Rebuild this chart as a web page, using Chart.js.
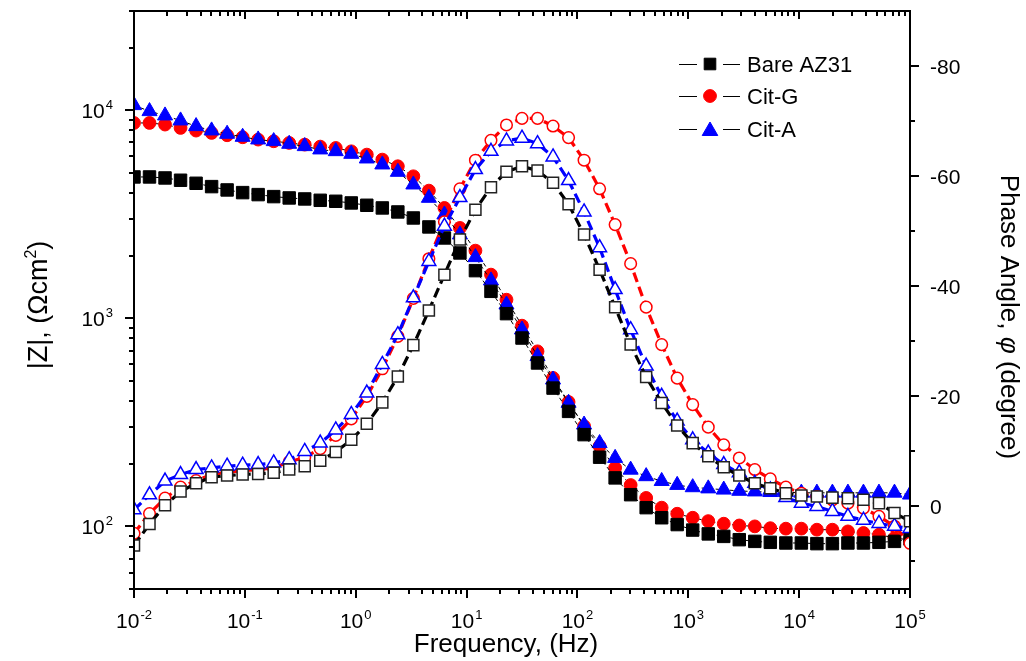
<!DOCTYPE html>
<html>
<head>
<meta charset="utf-8">
<script src="https://cdn.jsdelivr.net/npm/chart.js@4.4.1/dist/chart.umd.min.js"></script>
<style>
html,body{margin:0;padding:0;background:#fff;}
canvas{display:block;}
</style>
</head>
<body>
<canvas id="c" width="1026" height="661"></canvas>
<script>
// ---- data ----
const freq = [0.01,0.0138,0.01905,0.0263,0.03631,0.05012,0.06918,0.0955,0.1318,0.182,
  0.2512,0.3467,0.4786,0.6607,0.912,1.259,1.738,2.399,3.311,4.571,
  6.31,8.71,12.02,16.6,22.91,31.62,43.65,60.26,83.18,114.8,
  158.5,218.8,302,416.9,575.4,794.3,1096,1514,2089,2884,
  3981,5495,7586,10471,14454,19953,27542,38019,52481,72444,100000];

const bareZ = [4780,4780,4727,4609,4457,4296,4140,4020,3932,3846,
  3789,3747,3692,3652,3585,3494,3392,3245,3036,2749,
  2433,2061,1695,1348,1053,804,610,462,357,276,
  215,171,142,123,110,102,96,92,89.5,86.3,
  84.7,83.8,83.2,83.2,82.6,82.6,83.2,83.2,83.8,84.7,87];
const citGZ = [8690,8690,8535,8224,7986,7782,7584,7418,7228,7096,
  6966,6838,6688,6590,6350,6122,5792,5381,4816,4110,
  3392,2719,2115,1622,1229,922,694,517,396,303,
  243,191,158,137,123,115,110,106,103,101,
  100,98,97.5,97.5,96.4,96.4,94.6,92.9,91.2,88,86];
const citAZ = [10570,9890,9427,8920,8378,7986,7697,7444,7228,7096,
  6889,6714,6472,6350,6166,5856,5481,5052,4391,3789,
  3151,2525,1965,1518,1163,882,657,507,392,308,
  251,213,187,174,165,158,154,152,150,148,
  147,146,146,145,145,145,145,145,145,145,142];

const barePhase = [7.1,3.2,-0.2,-2.7,-4.2,-5.3,-5.6,-5.8,-5.9,-6.1,
  -6.7,-7.3,-8.3,-9.9,-12.1,-15.0,-18.9,-23.6,-29.3,-35.6,
  -42.1,-48.5,-53.9,-58.0,-60.8,-61.8,-61.0,-58.8,-54.9,-49.4,
  -43.0,-36.2,-29.4,-23.5,-18.8,-14.7,-11.5,-9.1,-7.1,-5.6,
  -4.2,-3.3,-2.4,-2.0,-1.8,-1.6,-1.5,-1.2,-0.6,1.2,2.7];
const citGPhase = [4.9,1.3,-1.5,-3.5,-4.7,-5.8,-6.2,-6.5,-6.7,-7.0,
  -8.1,-8.9,-10.5,-12.9,-15.9,-20.0,-25.0,-30.9,-37.8,-45.0,
  -51.7,-57.7,-62.9,-66.5,-69.3,-70.5,-70.5,-69.1,-67.0,-62.9,
  -57.7,-51.2,-44.1,-36.2,-29.4,-23.3,-18.5,-14.4,-11.2,-8.8,
  -6.7,-5.0,-3.5,-2.4,-1.8,-1.2,-0.6,0.3,1.8,3.6,6.7];
const citAPhase = [0.6,-2.1,-4.6,-5.8,-6.7,-7.0,-7.3,-7.5,-7.6,-7.9,
  -8.5,-10.0,-11.5,-13.9,-16.7,-20.6,-25.8,-31.2,-37.9,-44.5,
  -50.9,-56.1,-61.2,-64.5,-66.4,-66.9,-65.9,-63.5,-59.2,-53.5,
  -47.0,-39.4,-32.1,-25.5,-20.0,-15.5,-12.1,-9.7,-7.6,-6.1,
  -4.2,-3.0,-1.6,-0.6,0.0,0.9,1.8,2.5,3.1,3.6,4.0];

const seriesNames = ['Bare AZ31','Cit-G','Cit-A'];
const xTickExp = [-2,-1,0,1,2,3,4,5];
const yTickExp = [2,3,4];
const y2Major = [-80,-60,-40,-20,0];
const y2Minor = [-70,-50,-30,-10,10];

const FONT = '"Liberation Sans", Arial, Helvetica, sans-serif';
const pts = (arr) => freq.map((f,i)=>({x:f, y:arr[i]}));

const zLine = {borderColor:'#000', borderWidth:1, borderDash:[4,3], showLine:true, clip:0};
const pLine = {borderWidth:3.2, borderDash:[10,5], showLine:true, clip:0};

const datasets = [
  Object.assign({label:'Bare phase', data:pts(barePhase), yAxisID:'y2', borderColor:'#000',
    pointStyle:'rect', pointRadius:7.8, pointBackgroundColor:'#fff', pointBorderColor:'#222', pointBorderWidth:1.5}, pLine),
  Object.assign({label:'Cit-A phase', data:pts(citAPhase), yAxisID:'y2', borderColor:'#0000ff',
    pointStyle:'triangle', pointRadius:8, pointBackgroundColor:'#fff', pointBorderColor:'#0000ff', pointBorderWidth:1.5}, pLine),
  Object.assign({label:'Cit-G phase', data:pts(citGPhase), yAxisID:'y2', borderColor:'#ff0000',
    pointStyle:'circle', pointRadius:5.8, pointBackgroundColor:'#fff', pointBorderColor:'#ff0000', pointBorderWidth:1.5}, pLine),
  Object.assign({label:'Bare Z', data:pts(bareZ), yAxisID:'y',
    pointStyle:'rect', pointRadius:8.8, pointBackgroundColor:'#000', pointBorderColor:'#000', pointBorderWidth:1}, zLine),
  Object.assign({label:'Cit-A Z', data:pts(citAZ), yAxisID:'y',
    pointStyle:'triangle', pointRadius:8.7, pointBackgroundColor:'#0000ff', pointBorderColor:'#0000ff', pointBorderWidth:1}, zLine),
  Object.assign({label:'Cit-G Z', data:pts(citGZ), yAxisID:'y',
    pointStyle:'circle', pointRadius:6.4, pointBackgroundColor:'#ff0000', pointBorderColor:'#ff0000', pointBorderWidth:1}, zLine)
];

function drawPow(ctx, exp, x, yBase, align) {
  const big = '21px ' + FONT, small = '13px ' + FONT;
  ctx.font = big; const w1 = ctx.measureText('10').width;
  ctx.font = small; const es = String(exp); const w2 = ctx.measureText(es).width;
  const tw = w1 + w2 + 1;
  let x0 = align === 'center' ? x - tw/2 : (align === 'right' ? x - tw : x);
  ctx.textAlign = 'left'; ctx.textBaseline = 'alphabetic';
  ctx.font = big; ctx.fillText('10', x0, yBase);
  ctx.font = small; ctx.fillText(es, x0 + w1 + 1, yBase - 9);
}

const axesPlugin = {
  id: 'axesPlugin',
  afterDraw(chart) {
    const {ctx, chartArea:a, scales} = chart;
    const sx = scales.x, sy = scales.y, sy2 = scales.y2;
    ctx.save();
    ctx.fillStyle = '#000'; ctx.strokeStyle = '#000';
    ctx.lineWidth = 2;
    ctx.strokeRect(a.left, a.top, a.right - a.left, a.bottom - a.top);
    const line = (x1,y1,x2,y2)=>{ctx.beginPath();ctx.moveTo(x1,y1);ctx.lineTo(x2,y2);ctx.stroke();};
    for (let e = -2; e <= 5; e++) {
      for (let m = 1; m <= 9; m++) {
        const v = m * Math.pow(10, e);
        if (v < 0.01 - 1e-12 || v > 1e5 + 1e-6) continue;
        const px = Math.round(sx.getPixelForValue(v));
        line(px, a.bottom, px, a.bottom + (m === 1 ? 9 : 5));
        line(px, a.top, px, a.top + (m === 1 ? 8 : 5));
      }
    }
    for (let e = 1; e <= 4; e++) {
      for (let m = 1; m <= 9; m++) {
        const v = m * Math.pow(10, e);
        if (v < 50 - 1e-9 || v > 30000 + 1e-6) continue;
        const py = Math.round(sy.getPixelForValue(v));
        const L = m === 1 ? 9 : 5;
        line(a.left - L, py, a.left, py);
      }
    }
    y2Major.forEach(v=>{ const py = Math.round(sy2.getPixelForValue(v)); line(a.right, py, a.right + 9, py); });
    y2Minor.forEach(v=>{ const py = Math.round(sy2.getPixelForValue(v)); line(a.right, py, a.right + 5, py); });
    xTickExp.forEach(e=>{ drawPow(ctx, e, sx.getPixelForValue(Math.pow(10,e)), 628, 'center'); });
    yTickExp.forEach(e=>{ drawPow(ctx, e, 113, sy.getPixelForValue(Math.pow(10,e)) + 8, 'right'); });
    ctx.font = '21px ' + FONT; ctx.textAlign = 'left'; ctx.textBaseline = 'alphabetic';
    y2Major.forEach(v=>{ ctx.fillText(String(v), 930, sy2.getPixelForValue(v) + 8); });
    ctx.font = '26px ' + FONT; ctx.textAlign = 'center';
    ctx.fillText('Frequency, (Hz)', 506, 652);
    ctx.save();
    ctx.translate(47, 305); ctx.rotate(-Math.PI/2);
    const bigL = '27px ' + FONT, sm = '16px ' + FONT;
    ctx.font = bigL; const t1 = '|Z|, (\u03A9cm'; const w1 = ctx.measureText(t1).width; const w3 = ctx.measureText(')').width;
    ctx.font = sm; const w2 = ctx.measureText('2').width;
    let x0 = -(w1 + w2 + w3)/2;
    ctx.textAlign = 'left';
    ctx.font = bigL; ctx.fillText(t1, x0, 0);
    ctx.font = sm; ctx.fillText('2', x0 + w1, -11);
    ctx.font = bigL; ctx.fillText(')', x0 + w1 + w2, 0);
    ctx.restore();
    ctx.save();
    const big = '26px ' + FONT;
    ctx.translate(1001, 317); ctx.rotate(Math.PI/2);
    const r1 = 'Phase Angle, ', r2 = '\u03C6', r3 = ' (degree)';
    ctx.font = big; const a1 = ctx.measureText(r1).width, a3 = ctx.measureText(r3).width;
    ctx.font = 'italic 26px ' + FONT; const a2 = ctx.measureText(r2).width;
    let xr = -(a1 + a2 + a3)/2; ctx.textAlign = 'left';
    ctx.font = big; ctx.fillText(r1, xr, 0);
    ctx.font = 'italic 26px ' + FONT; ctx.fillText(r2, xr + a1, 0);
    ctx.font = big; ctx.fillText(r3, xr + a1 + a2, 0);
    ctx.restore();
    const legY = [64, 96, 129];
    const styles = [
      {pointStyle:'rect', radius:8.2, color:'#000'},
      {pointStyle:'circle', radius:6.4, color:'#ff0000'},
      {pointStyle:'triangle', radius:9, color:'#0000ff'}
    ];
    ctx.lineWidth = 1;
    seriesNames.forEach((name, i)=>{
      const y = legY[i];
      ctx.strokeStyle = '#000';
      line(679, y + 0.5, 697, y + 0.5);
      line(723, y + 0.5, 740, y + 0.5);
      ctx.fillStyle = styles[i].color; ctx.strokeStyle = styles[i].color;
      const yy = styles[i].pointStyle === 'triangle' ? y + 2 : y;
      Chart.helpers.drawPoint(ctx, {pointStyle:styles[i].pointStyle, radius:styles[i].radius, rotation:0, borderWidth:1}, 710, yy);
      ctx.fillStyle = '#000';
      ctx.font = '22px ' + FONT; ctx.textAlign = 'left'; ctx.textBaseline = 'alphabetic';
      ctx.fillText(name, 747, y + 8);
    });
    ctx.restore();
  }
};

const hidden = {ticks:{display:false}, grid:{display:false}, border:{display:false}, title:{display:false}};

new Chart(document.getElementById('c'), {
  type: 'line',
  data: {datasets},
  options: {
    responsive: false,
    animation: false,
    events: [],
    layout: {padding: {top: 11, left: 0, right: 0, bottom: 0}},
    plugins: {legend:{display:false}, tooltip:{enabled:false}},
    scales: {
      x: Object.assign({type:'logarithmic', position:'bottom', min:0.01, max:100000,
        afterFit(s){ s.height = 72; }}, hidden),
      y: Object.assign({type:'logarithmic', position:'left', min:50, max:30000,
        afterFit(s){ s.width = 134; }}, hidden),
      y2: Object.assign({type:'linear', position:'right', min:-90, max:15, reverse:true,
        afterFit(s){ s.width = 116; }}, hidden)
    }
  },
  plugins: [axesPlugin]
});
</script>
</body>
</html>
